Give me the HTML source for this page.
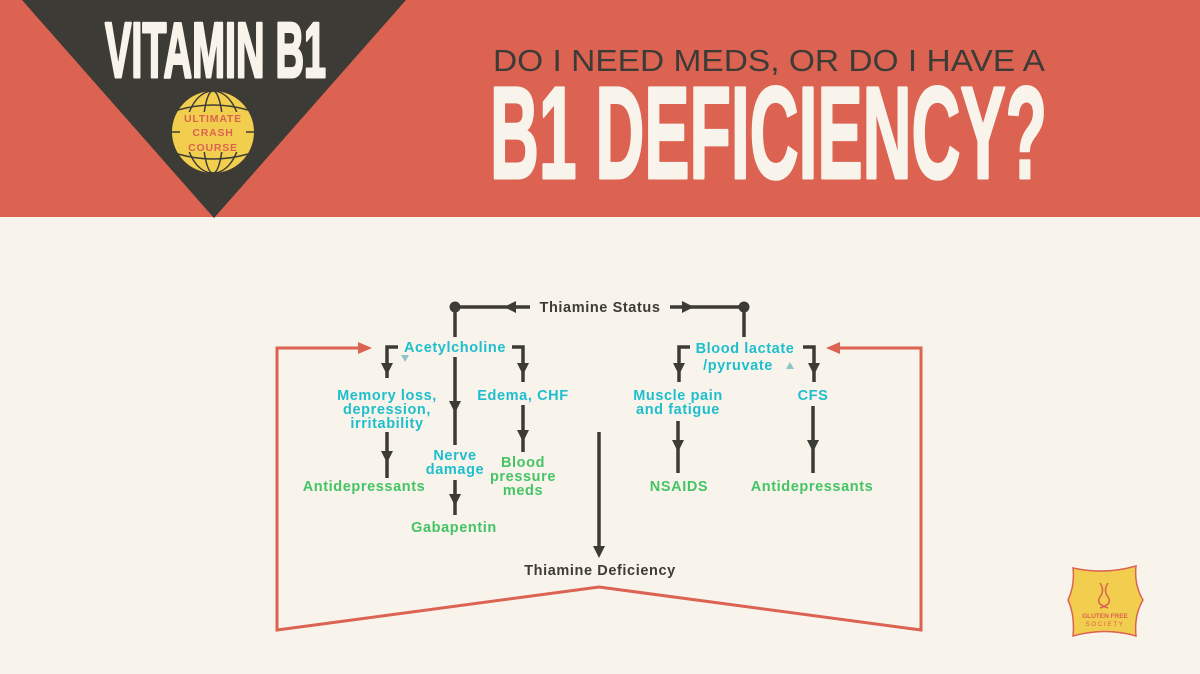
<!DOCTYPE html>
<html><head><meta charset="utf-8"><style>
html,body{margin:0;padding:0;background:#F8F3EB;}
svg{display:block;}
.h{font-family:"Liberation Sans",sans-serif;font-weight:bold;fill:#F8F3EB;stroke:#F8F3EB;stroke-width:3;stroke-linejoin:round;}
.t{font-family:"Liberation Sans",sans-serif;font-weight:bold;font-size:14.5px;letter-spacing:0.6px;text-anchor:middle;}
.c{fill:#1EBFCC}.g{fill:#45C466}.k{fill:#3D3B36}
</style></head><body>
<svg width="1200" height="674" viewBox="0 0 1200 674" xmlns="http://www.w3.org/2000/svg">
<rect x="0" y="0" width="1200" height="674" fill="#F8F3EB"/>
<rect x="0" y="0" width="1200" height="217" fill="#DC6352"/>
<polygon points="22,0 406,0 214,218" fill="#3D3B36"/>
<text class="h" x="105" y="77" font-size="78" textLength="221" lengthAdjust="spacingAndGlyphs">VITAMIN B1</text>
<!-- globe -->
<circle cx="213" cy="132" r="41" fill="#F2CE4E"/>
<g fill="none" stroke="#3D3B36" stroke-width="1.5">
<ellipse cx="213" cy="132" rx="10" ry="41"/><ellipse cx="213" cy="132" rx="27" ry="41"/>
<line x1="172" y1="132" x2="186" y2="132"/><line x1="240" y1="132" x2="254" y2="132"/>
<path d="M178 110 Q213 100 248 110"/><path d="M178 154 Q213 164 248 154"/>
</g>
<rect x="180" y="112" width="66" height="40" fill="#F2CE4E"/>
<g font-family="Liberation Sans,sans-serif" font-weight="bold" font-size="10.5" fill="#DC6352" text-anchor="middle" letter-spacing="0.8">
<text x="213" y="122">ULTIMATE</text><text x="213" y="136">CRASH</text><text x="213" y="151">COURSE</text></g>
<text x="493" y="71" font-family="Liberation Sans,sans-serif" font-size="31" fill="#3D3B36" textLength="552" lengthAdjust="spacingAndGlyphs">DO I NEED MEDS, OR DO I HAVE A</text>
<text class="h" x="490" y="178" font-size="131" textLength="557" lengthAdjust="spacingAndGlyphs">B1 DEFICIENCY?</text>

<!-- red loop -->
<path d="M358 348 H277 V630 L599 587 L921 630 V348 H838" fill="none" stroke="#DC6352" stroke-width="3"/>
<polygon points="372,348 358,342 358,354" fill="#DC6352"/>
<polygon points="826,348 840,342 840,354" fill="#DC6352"/>

<g stroke="#3D3B36" stroke-width="3.5" fill="none">
<path d="M455 307 H530"/><path d="M670 307 H744"/>
<path d="M455 307 V337"/><path d="M744 307 V337"/>
<path d="M398 347 H387 V378"/><path d="M512 347 H523 V382"/>
<path d="M455 357 V445"/>
<path d="M387 432 V478"/><path d="M455 480 V515"/><path d="M523 405 V452"/>
<path d="M599 432 V552"/>
<path d="M690 347 H679 V382"/><path d="M803 347 H814 V382"/>
<path d="M678 421 V473"/><path d="M813 406 V473"/>
</g>
<g fill="#3D3B36">
<circle cx="455" cy="307" r="5.5"/><circle cx="744" cy="307" r="5.5"/>
<polygon points="504,307 516,301 516,313"/><polygon points="694,307 682,301 682,313"/>
<polygon points="387,375 381,363 393,363"/><polygon points="523,375 517,363 529,363"/>
<polygon points="455,413 449,401 461,401"/>
<polygon points="387,463 381,451 393,451"/><polygon points="455,506 449,494 461,494"/>
<polygon points="523,442 517,430 529,430"/>
<polygon points="599,558 593,546 605,546"/>
<polygon points="679,375 673,363 685,363"/><polygon points="814,375 808,363 820,363"/>
<polygon points="678,452 672,440 684,440"/><polygon points="813,452 807,440 819,440"/>
</g>
<polygon points="401,355 409,355 405,362" fill="#8FC5C5"/>
<polygon points="786,369 794,369 790,362" fill="#8FC5C5"/>

<text class="t k" x="600" y="312">Thiamine Status</text>
<text class="t c" x="455" y="352">Acetylcholine</text>
<text class="t c" x="387" y="400">Memory loss,</text>
<text class="t c" x="387" y="414">depression,</text>
<text class="t c" x="387" y="428">irritability</text>
<text class="t g" x="364" y="491">Antidepressants</text>
<text class="t c" x="455" y="460">Nerve</text>
<text class="t c" x="455" y="474">damage</text>
<text class="t g" x="454" y="532">Gabapentin</text>
<text class="t c" x="523" y="400">Edema, CHF</text>
<text class="t g" x="523" y="467">Blood</text>
<text class="t g" x="523" y="481">pressure</text>
<text class="t g" x="523" y="495">meds</text>
<text class="t k" x="600" y="575">Thiamine Deficiency</text>
<text class="t c" x="745" y="353">Blood lactate</text>
<text class="t c" x="738" y="370">/pyruvate</text>
<text class="t c" x="678" y="400">Muscle pain</text>
<text class="t c" x="678" y="414">and fatigue</text>
<text class="t c" x="813" y="400">CFS</text>
<text class="t g" x="679" y="491">NSAIDS</text>
<text class="t g" x="812" y="491">Antidepressants</text>

<!-- logo -->
<path d="M1073 568 Q1105 575 1136 566 Q1134 585 1143 600 Q1134 615 1136 636 Q1105 627 1073 636 Q1075 615 1068 600 Q1075 585 1073 568 Z" fill="#F2CE4E" stroke="#DC6352" stroke-width="1.5"/>
<g stroke="#DC6352" stroke-width="1.5" fill="none"><path d="M1100 583 Q1105 590 1100 597 Q1095 604 1108 608"/><path d="M1108 583 Q1103 590 1108 597 Q1113 604 1100 608"/></g>
<text x="1105" y="618" font-family="Liberation Sans,sans-serif" font-weight="bold" font-size="6.5" fill="#DC6352" text-anchor="middle">GLUTEN FREE</text>
<text x="1105" y="626" font-family="Liberation Sans,sans-serif" font-size="6.5" fill="#DC6352" text-anchor="middle" letter-spacing="1.5">SOCIETY</text>
</svg>
</body></html>
